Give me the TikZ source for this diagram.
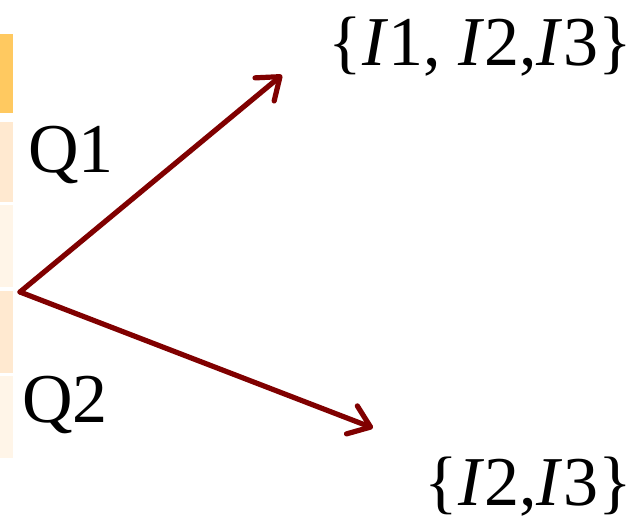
\documentclass[tikz,border=0pt]{standalone}
\usepackage{fontspec}
\setmainfont{Liberation Serif}
\usetikzlibrary{arrows.meta}
\definecolor{darkred}{HTML}{800000}
\definecolor{barA}{HTML}{FFC960}
\definecolor{barB}{HTML}{FFE9D0}
\definecolor{barC}{HTML}{FFF5E8}
\begin{document}
\begin{tikzpicture}[x=0.5pt,y=-0.5pt,
  qarrow/.style={darkred,line width=2.6pt,line cap=round,line join=round,
    -{Straight Barb[length=10pt,width=15pt,round]}},
  lbl/.style={inner sep=0pt,font=\fontsize{35}{42}\selectfont}]
\useasboundingbox (0,0) rectangle (636,520);
\fill[barA] (0,34) rectangle (13,113);
\fill[barB] (0,122) rectangle (13,202);
\fill[barC] (0,205) rectangle (13,287);
\fill[barB] (0,291) rectangle (13,373);
\fill[barC] (0,376) rectangle (13,458);
\coordinate (root) at (20,292);
\coordinate (q1tip) at (282,75);
\coordinate (q2tip) at (373,428);
\draw[qarrow] (root) -- (q1tip);
\draw[qarrow] (root) -- (q2tip);
\node[lbl,anchor=base west] (q1label) at (28,172) {Q1};
\node[lbl,anchor=base west] (q2label) at (22,422) {Q2};
\node[lbl,anchor=base east] (set1) at (632,65) {\{\textit{I}1, \textit{I}2,\textit{I}3\}};
\node[lbl,anchor=base east] (set2) at (632,505) {\{\textit{I}2,\textit{I}3\}};
\end{tikzpicture}
\end{document}
